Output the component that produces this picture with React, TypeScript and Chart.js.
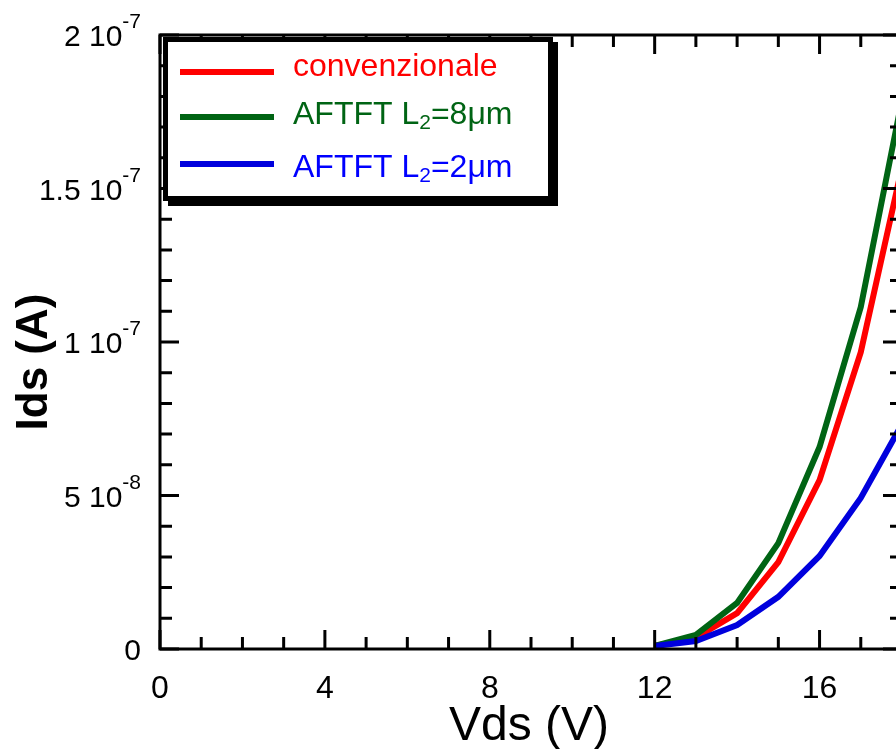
import React, { useEffect, useRef } from 'react';
import { Chart, registerables } from 'chart.js';

Chart.register(...registerables);

// ---- data ----
const vds = [12, 13, 14, 15, 16, 17, 18];
const idsConvenzionale = [1e-9, 3.7e-9, 1.17e-8, 2.83e-8, 5.5e-8, 9.67e-8, 1.57e-7];
const idsL8 = [1e-9, 4.6e-9, 1.5e-8, 3.45e-8, 6.58e-8, 1.114e-7, 1.79e-7];
const idsL2 = [1e-9, 2.6e-9, 7.8e-9, 1.7e-8, 3.03e-8, 4.92e-8, 7.33e-8];

// legend labels as [text, subscript, text]
const legendParts: [string, string, string][] = [
  ['convenzionale', '', ''],
  ['AFTFT L', '2', '=8\u03bcm'],
  ['AFTFT L', '2', '=2\u03bcm'],
];
const seriesColors = ['#ff0000', '#006414', '#0000dd'];
const textColors = ['#ff0000', '#006414', '#0000ff'];

const xTickValues = [0, 4, 8, 12, 16];
const xTickLabels = ['0', '4', '8', '12', '16'];
const yTickValues = [0, 5e-8, 1e-7, 1.5e-7, 2e-7];
const yTickMantissa = ['0', '5', '1', '1.5', '2'];
const yTickExponent = ['', '-8', '-7', '-7', '-7'];

const xTitle = 'Vds (V)';
const yTitle = 'Ids (A)';

const xMin = 0, xMax = 18, xMinorStep = 1;
const yMin = 0, yMax = 2e-7, yMinorStep = 1e-8;

const FONT = '"Liberation Sans", Arial, Helvetica, sans-serif';

const framePlugin = {
  id: 'frameAndLabels',
  afterDatasetsDraw(chart: any) {
    const { ctx, chartArea, scales } = chart;
    const { left, right, top, bottom } = chartArea;
    const x = scales.x, y = scales.y;
    ctx.save();
    ctx.strokeStyle = '#000';
    ctx.fillStyle = '#000';
    ctx.lineWidth = 3;
    ctx.lineCap = 'butt';
    ctx.strokeRect(left, top, right - left, bottom - top);

    // x ticks (bottom and top, inward)
    ctx.beginPath();
    for (let v = xMin; v <= xMax + 1e-9; v += xMinorStep) {
      const px = x.getPixelForValue(v);
      const major = xTickValues.indexOf(v) >= 0;
      const len = major ? 19 : 12;
      ctx.moveTo(px, bottom);
      ctx.lineTo(px, bottom - len);
      ctx.moveTo(px, top);
      ctx.lineTo(px, top + len);
    }
    // y ticks (left and right, inward)
    const nY = Math.round((yMax - yMin) / yMinorStep);
    for (let k = 0; k <= nY; k++) {
      const v = yMin + k * yMinorStep;
      const py = y.getPixelForValue(v);
      const major = k % 5 === 0;
      const len = major ? 19 : 12;
      ctx.moveTo(left, py);
      ctx.lineTo(left + len, py);
      ctx.moveTo(right, py);
      ctx.lineTo(right - len, py);
    }
    ctx.stroke();

    // x tick labels
    ctx.font = `32px ${FONT}`;
    ctx.textAlign = 'center';
    ctx.textBaseline = 'alphabetic';
    xTickValues.forEach((v, i) => {
      const px = x.getPixelForValue(v);
      ctx.fillText(xTickLabels[i], px, bottom + 49);
    });

    // y tick labels with superscript
    yTickValues.forEach((v, i) => {
      const py = y.getPixelForValue(v);
      const mainText = yTickExponent[i] ? yTickMantissa[i] + ' 10' : yTickMantissa[i];
      ctx.font = `30px ${FONT}`;
      const wMain = ctx.measureText(mainText).width;
      ctx.font = `21px ${FONT}`;
      const wSup = yTickExponent[i] ? ctx.measureText(yTickExponent[i]).width : 0;
      const xRight = left - 19;
      const xStart = xRight - wMain - wSup;
      ctx.textAlign = 'left';
      ctx.font = `30px ${FONT}`;
      ctx.fillText(mainText, xStart, py + 11);
      if (yTickExponent[i]) {
        ctx.font = `21px ${FONT}`;
        ctx.fillText(yTickExponent[i], xStart + wMain, py - 7);
      }
    });

    // axis titles
    ctx.textAlign = 'center';
    ctx.font = `48px ${FONT}`;
    ctx.fillText(xTitle, 529, 740);
    ctx.save();
    ctx.translate(47, 362);
    ctx.rotate(-Math.PI / 2);
    ctx.font = `bold 44px ${FONT}`;
    ctx.fillText(yTitle, 0, 0);
    ctx.restore();

    // legend box with shadow
    const bx = left + 3, by = top + 2, bw = 390, bh = 164;
    ctx.fillStyle = '#000';
    ctx.fillRect(bx + 5, by + 5, bw, bh);
    ctx.fillRect(bx, by, bw, bh);
    ctx.fillStyle = '#fff';
    ctx.fillRect(bx + 5, by + 5, bw - 10, bh - 10);

    const lineY = [72, 117, 164];
    const textY = [76, 124, 177];
    legendParts.forEach((parts, i) => {
      ctx.strokeStyle = seriesColors[i];
      ctx.lineWidth = 6;
      ctx.beginPath();
      ctx.moveTo(180, lineY[i]);
      ctx.lineTo(274, lineY[i]);
      ctx.stroke();
      ctx.fillStyle = textColors[i];
      ctx.textAlign = 'left';
      let tx = 293;
      ctx.font = `32px ${FONT}`;
      ctx.fillText(parts[0], tx, textY[i]);
      tx += ctx.measureText(parts[0]).width;
      if (parts[1]) {
        ctx.font = `21px ${FONT}`;
        ctx.fillText(parts[1], tx, textY[i] + 5);
        tx += ctx.measureText(parts[1]).width;
      }
      if (parts[2]) {
        ctx.font = `32px ${FONT}`;
        ctx.fillText(parts[2], tx, textY[i]);
      }
    });
    ctx.restore();
  },
};

export default function App() {
  const canvasRef = useRef<HTMLCanvasElement | null>(null);

  useEffect(() => {
    if (!canvasRef.current) return;
    const mk = (arr: number[]) => vds.map((v, i) => ({ x: v, y: arr[i] }));
    const chart = new Chart(canvasRef.current, {
      type: 'line',
      data: {
        datasets: [
          { label: 'convenzionale', data: mk(idsConvenzionale), borderColor: seriesColors[0], borderWidth: 6, pointRadius: 0, tension: 0, order: 3 },
          { label: 'AFTFT L2=8μm', data: mk(idsL8), borderColor: seriesColors[1], borderWidth: 6, pointRadius: 0, tension: 0, order: 2 },
          { label: 'AFTFT L2=2μm', data: mk(idsL2), borderColor: seriesColors[2], borderWidth: 6, pointRadius: 0, tension: 0, order: 1 },
        ],
      },
      options: {
        responsive: false,
        animation: false,
        devicePixelRatio: 1,
        layout: { padding: { left: 160, top: 35, right: 18, bottom: 100 } },
        plugins: { legend: { display: false }, tooltip: { enabled: false }, title: { display: false } },
        scales: {
          x: { type: 'linear', min: xMin, max: xMax, display: false },
          y: { type: 'linear', min: yMin, max: yMax, display: false },
        },
      },
      plugins: [framePlugin],
    });
    return () => chart.destroy();
  }, []);

  return (
    <div style={{ position: 'fixed', left: 0, top: 0, width: 896, height: 749, overflow: 'hidden', background: '#fff' }}>
      <canvas ref={canvasRef} width={920} height={749} style={{ display: 'block' }} />
    </div>
  );
}
